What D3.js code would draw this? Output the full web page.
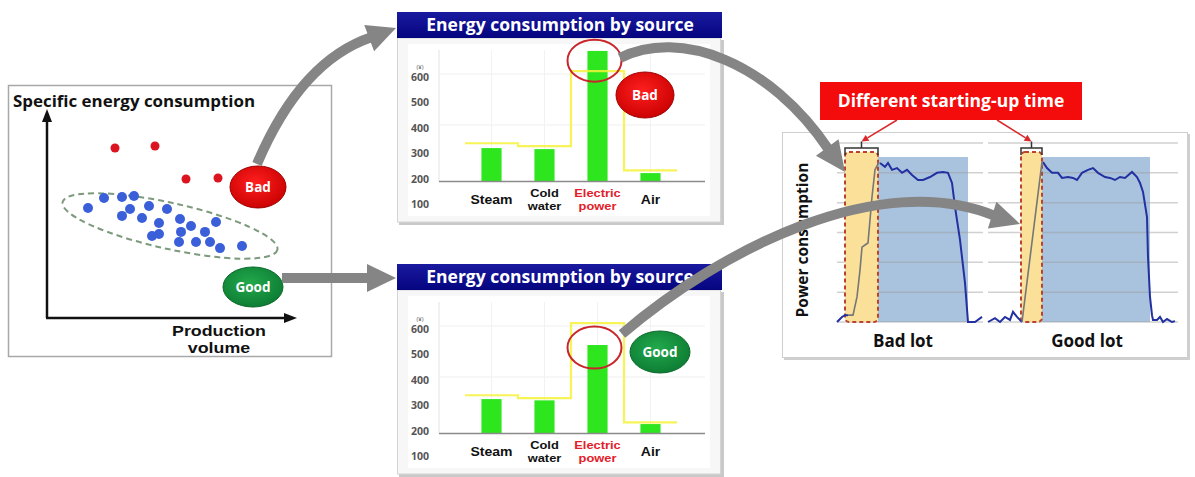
<!DOCTYPE html>
<html>
<head>
<meta charset="utf-8">
<script src="https://cdn.jsdelivr.net/npm/d3@7"></script>
<style>
  body { margin: 0; background: #fff; }
  svg { display: block; font-family: "Open Sans", "DejaVu Sans", sans-serif; }
  .tight { font-family: "Liberation Sans", Arial, sans-serif; }
</style>
</head>
<body>
<svg id="chart" width="1195" height="477"></svg>
<script>
// ---------- data ----------
// Lots plotted as [production volume, specific energy consumption]
const goodLots = [
  [1.64, 5.37], [2.28, 5.85], [3.0, 5.9], [3.48, 5.95], [3.32, 5.32], [4.08, 5.46],
  [4.8, 5.32], [3.0, 4.98], [3.8, 4.88], [4.48, 4.63], [5.32, 4.83], [5.76, 4.49],
  [6.76, 4.68], [4.2, 4.0], [4.48, 4.1], [5.36, 4.2], [6.32, 4.2], [5.28, 3.71],
  [5.96, 3.71], [6.52, 3.71], [6.92, 3.41], [7.8, 3.51]
];
const badLots = [[2.72, 8.29], [4.32, 8.39], [5.56, 6.78], [6.84, 6.83]];

// Energy consumption by source (¥)
const sources = ["Steam", "Cold water", "Electric power", "Air"];
const sourceTicks = [100, 200, 300, 400, 500, 600];
const badLotUse = [329, 325, 710, 231];
const goodLotUse = [333, 328, 545, 235];
const standardUse = [348, 337, 631, 242];

// Power consumption traces: [time (min), power level]
const badIdle = [[0, 0], [2.5, 0.17], [4, 0.23], [5.5, 0.23]];
const badStartup = [[5.5, 0.23], [8, 0.23], [10, 0.84], [11.5, 1.74], [12.5, 2.51], [14, 2.58],
  [15.5, 2.65], [17.5, 4.19], [19, 5.1], [21, 5.36]];
const badRun = [[21.5, 5.33], [24, 5.2], [25.5, 5.33], [27.5, 5.1], [30, 5.16], [32.5, 5.0],
  [35, 5.1], [37.5, 4.93], [40.5, 4.76], [43, 4.76], [46.5, 4.86], [50, 5.0], [53, 5.03],
  [55.5, 5.0], [57.5, 4.66], [59, 3.86], [61.5, 2.75], [64, 1.31], [65.5, 0], [69, 0], [72.5, 0.17]];
const goodIdle = [[0, 0], [3.5, 0.13], [6, 0], [8.5, 0.17], [11, 0.07], [12.5, 0.34],
  [14.5, 0.17], [17, 0]];
const goodStartup = [[17, 0], [27, 5.36]];
const goodRun = [[27.5, 5.36], [29.5, 5.16], [32, 5.0], [35, 5.0], [37, 4.83], [40, 4.86],
  [42.5, 4.83], [44.5, 4.76], [47, 5.0], [50, 5.1], [52.5, 5.16], [55, 5.0], [58.5, 4.86],
  [61, 4.83], [63.5, 4.76], [66, 4.86], [68.5, 4.83], [72, 5.03], [74.5, 4.86], [76, 4.66],
  [77.5, 4.36], [79.5, 3.52], [80, 2.18], [81, 0.84], [82, 0.23], [82.5, 0.07], [84.5, 0.07],
  [86, 0.17], [87.5, 0], [89.5, 0.1], [92, 0], [93.5, 0.03]];
const badStartWindow = [4, 20.5];
const badRunWindow = [20.5, 65.5];
const goodStartWindow = [16.5, 27];
const goodRunWindow = [27, 81];
const powerGrid = [0, 1, 2, 3, 4, 5, 6];

// ---------- setup ----------
const svg = d3.select("#chart");
const defs = svg.append("defs");

function radial(id, inner, outer) {
  const g = defs.append("radialGradient").attr("id", id).attr("cx", "45%").attr("cy", "40%").attr("r", "65%");
  g.append("stop").attr("offset", "0%").attr("stop-color", inner);
  g.append("stop").attr("offset", "100%").attr("stop-color", outer);
}
radial("redBadge", "#ff1f1f", "#c80000");
radial("greenBadge", "#22a94c", "#0c7a32");

const hdr = defs.append("linearGradient").attr("id", "hdr").attr("x1", 0).attr("y1", 0).attr("x2", 0).attr("y2", 1);
hdr.append("stop").attr("offset", "0%").attr("stop-color", "#1a1aa0");
hdr.append("stop").attr("offset", "100%").attr("stop-color", "#050580");

function badge(g, cx, cy, rx, ry, label, fill) {
  g.append("ellipse").attr("cx", cx).attr("cy", cy).attr("rx", rx).attr("ry", ry)
    .attr("fill", fill).attr("stroke", label === "Bad" ? "#a00000" : "#0a6a2a").attr("stroke-width", 1);
  g.append("text").attr("x", cx).attr("y", cy + 5).attr("text-anchor", "middle")
    .attr("fill", "#fff").attr("font-size", 13.5).attr("font-weight", 700).text(label);
}

// ---------- left panel: scatter ----------
const left = svg.append("g");
left.append("rect").attr("x", 8.5).attr("y", 85.5).attr("width", 323).attr("height", 271)
  .attr("fill", "#fff").attr("stroke", "#a8a8a8").attr("stroke-width", 1.5);

const sx = d3.scaleLinear().domain([0, 10]).range([47, 297]);
const sy = d3.scaleLinear().domain([0, 10]).range([318, 113]);

// axes with arrow tips
left.append("line").attr("x1", sx(0)).attr("y1", sy(0)).attr("x2", sx(0)).attr("y2", sy(10) + 8)
  .attr("stroke", "#111").attr("stroke-width", 2.5);
left.append("path").attr("d", `M${sx(0)},${sy(10) - 4} l-5,13 l10,0 z`).attr("fill", "#111");
left.append("line").attr("x1", sx(0) - 1).attr("y1", sy(0)).attr("x2", sx(10) - 8).attr("y2", sy(0))
  .attr("stroke", "#111").attr("stroke-width", 2.5);
left.append("path").attr("d", `M${sx(10)},${sy(0)} l-13,-5 l0,10 z`).attr("fill", "#111");

left.append("text").attr("x", 13).attr("y", 107).attr("font-size", 16.5).attr("font-weight", 700)
  .attr("fill", "#111").attr("textLength", 242).attr("lengthAdjust", "spacingAndGlyphs")
  .text("Specific energy consumption");
left.append("text").attr("class", "tight").attr("transform", "translate(219,336) scale(1.15,1)")
  .attr("text-anchor", "middle").attr("font-size", 15.5).attr("font-weight", 700).attr("fill", "#111")
  .text("Production");
left.append("text").attr("class", "tight").attr("transform", "translate(219,353) scale(1.15,1)")
  .attr("text-anchor", "middle").attr("font-size", 15.5).attr("font-weight", 700).attr("fill", "#111")
  .text("volume");

// cluster outline for the good lots
left.append("ellipse")
  .attr("transform", `translate(${sx(4.92)},${sy(4.49)}) rotate(12.5)`)
  .attr("rx", 110).attr("ry", 23)
  .attr("fill", "none").attr("stroke", "#7d9a7d").attr("stroke-width", 2).attr("stroke-dasharray", "6,4");

left.selectAll("circle.good").data(goodLots).join("circle").attr("class", "good")
  .attr("cx", d => sx(d[0])).attr("cy", d => sy(d[1])).attr("r", 5).attr("fill", "#3a5fd8");
left.selectAll("circle.bad").data(badLots).join("circle").attr("class", "bad")
  .attr("cx", d => sx(d[0])).attr("cy", d => sy(d[1])).attr("r", 4.5).attr("fill", "#dc1420");

badge(left, 258, 187, 28, 21, "Bad", "url(#redBadge)");
badge(left, 253, 287, 30, 20, "Good", "url(#greenBadge)");

// ---------- middle panels: energy by source ----------
const bx = d3.scaleBand().domain(sources).range([465, 677]).paddingInner(0.62).paddingOuter(0.31);
const by = d3.scaleLinear().domain([200, 600]).range([181, 79]);

function sourceChart(dy, values, circleAt, badgeLabel, badgePos) {
  const g = svg.append("g").attr("transform", `translate(0,${dy})`);
  // panel body + shadow
  g.append("rect").attr("x", 399).attr("y", 40).attr("width", 325).attr("height", 185).attr("fill", "#c9c9c9");
  g.append("rect").attr("x", 397.5).attr("y", 38).attr("width", 323).attr("height", 184)
    .attr("fill", "#f7f7f7").attr("stroke", "#d4d4d4");
  g.append("rect").attr("x", 408).attr("y", 44).attr("width", 302).attr("height", 172).attr("fill", "#fff");
  // header
  g.append("rect").attr("x", 397).attr("y", 12).attr("width", 325).attr("height", 26).attr("fill", "url(#hdr)");
  g.append("text").attr("x", 560).attr("y", 31).attr("text-anchor", "middle").attr("fill", "#fff")
    .attr("font-size", 17.5).attr("font-weight", 700).text("Energy consumption by source");

  // faint grid
  g.selectAll("line.hg").data([400, 600]).join("line").attr("class", "hg")
    .attr("x1", 440).attr("x2", 705).attr("y1", d => by(d) - 5).attr("y2", d => by(d) - 5)
    .attr("stroke", "#efefef").attr("stroke-width", 1);
  g.selectAll("line.vg").data(sources).join("line").attr("class", "vg")
    .attr("x1", d => bx(d) + bx.bandwidth() / 2).attr("x2", d => bx(d) + bx.bandwidth() / 2)
    .attr("y1", 50).attr("y2", by(200)).attr("stroke", "#f2f2f2");
  g.append("line").attr("x1", 439).attr("x2", 439).attr("y1", 50).attr("y2", by(200))
    .attr("stroke", "#e2e2e2");

  // y tick labels
  g.selectAll("text.tick").data(sourceTicks).join("text").attr("class", "tick")
    .attr("x", 420).attr("y", d => by(d) + 1.5).attr("text-anchor", "middle")
    .attr("font-size", 10.5).attr("font-weight", 700).attr("fill", "#555").text(d => d);
  g.append("text").attr("x", 420).attr("y", by(600) - 10).attr("text-anchor", "middle")
    .attr("font-size", 6).attr("fill", "#555").text("(¥)");

  // bars
  g.selectAll("rect.bar").data(sources).join("rect").attr("class", "bar")
    .attr("x", d => bx(d)).attr("width", bx.bandwidth())
    .attr("y", (d, i) => by(values[i])).attr("height", (d, i) => by(200) - by(values[i]))
    .attr("fill", "#2ee61e");

  // baseline
  g.append("line").attr("x1", 439).attr("x2", 705).attr("y1", by(200) + 0.5).attr("y2", by(200) + 0.5)
    .attr("stroke", "#8a8a8a").attr("stroke-width", 1.5);

  // standard consumption step line
  const pad = (bx.step() - bx.bandwidth()) / 2;
  const stepPts = [];
  sources.forEach((s, i) => {
    stepPts.push([bx(s) - pad, by(standardUse[i])]);
    stepPts.push([bx(s) - pad + bx.step(), by(standardUse[i])]);
  });
  g.append("path").attr("d", d3.line()(stepPts)).attr("fill", "none")
    .attr("stroke", "#f4f23a").attr("stroke-width", 2.2).attr("stroke-opacity", 0.85);

  // category labels
  sources.forEach((s, i) => {
    const lines = s.split(" ");
    const cx = bx(s) + bx.bandwidth() / 2;
    const color = s === "Electric power" ? "#e3202a" : "#111";
    lines.forEach((t, j) => {
      const yy = lines.length === 1 ? 204 : 197 + j * 13;
      g.append("text").attr("class", "tight")
        .attr("transform", `translate(${cx},${yy}) scale(1.12,1)`).attr("text-anchor", "middle")
        .attr("font-size", lines.length === 1 ? 12.5 : 11.5).attr("font-weight", 700).attr("fill", color)
        .text(t);
    });
  });

  // highlight ring on electric power
  const ex = bx("Electric power") + bx.bandwidth() / 2;
  g.append("ellipse").attr("cx", ex - 3).attr("cy", by(circleAt)).attr("rx", 27).attr("ry", 21)
    .attr("fill", "none").attr("stroke", "#c8262a").attr("stroke-width", 2);

  badge(g, badgePos[0], badgePos[1], badgeLabel === "Bad" ? 29 : 30, badgeLabel === "Bad" ? 23 : 21,
    badgeLabel, badgeLabel === "Bad" ? "url(#redBadge)" : "url(#greenBadge)");
  return g;
}
sourceChart(0, badLotUse, 672, "Bad", [645, 95]);
sourceChart(252, goodLotUse, 535, "Good", [660, 100]);

// ---------- right panel: power consumption ----------
const right = svg.append("g");
right.append("rect").attr("x", 784).attr("y", 134).attr("width", 406).attr("height", 226).attr("fill", "#cfcfcf");
right.append("rect").attr("x", 782.5).attr("y", 132.5).attr("width", 405).attr("height", 225)
  .attr("fill", "#fff").attr("stroke", "#cfcfcf");

const py = d3.scaleLinear().domain([0, 6]).range([322, 143]);
const pxBad = d3.scaleLinear().domain([0, 73]).range([837, 983]);
const pxGood = d3.scaleLinear().domain([0, 95]).range([988, 1178]);

function lot(px, startW, runW, idle, startup, run) {
  const g = right.append("g");
  g.append("rect").attr("x", px(runW[0])).attr("width", px(runW[1]) - px(runW[0]))
    .attr("y", py(5.53)).attr("height", py(0) - py(5.53)).attr("fill", "#a9c3df");
  g.selectAll("line.grid").data(powerGrid).join("line").attr("class", "grid")
    .attr("x1", px.range()[0]).attr("x2", px.range()[1])
    .attr("y1", d => py(d)).attr("y2", d => py(d))
    .attr("stroke", "#9a9a9a").attr("stroke-opacity", 0.45).attr("stroke-width", 1.5);
  g.append("rect").attr("x", px(startW[0])).attr("width", px(startW[1]) - px(startW[0]))
    .attr("y", py(5.7)).attr("height", py(0) - py(5.7)).attr("rx", 4)
    .attr("fill", "#fbe09a").attr("stroke", "#b9432e").attr("stroke-width", 2)
    .attr("stroke-dasharray", "4,3");
  const line = d3.line().x(d => px(d[0])).y(d => py(d[1]));
  g.append("path").attr("d", line(idle)).attr("fill", "none").attr("stroke", "#2230a0").attr("stroke-width", 2);
  g.append("path").attr("d", line(run)).attr("fill", "none").attr("stroke", "#2230a0").attr("stroke-width", 2);
  g.append("path").attr("d", line(startup)).attr("fill", "none").attr("stroke", "#777").attr("stroke-width", 1.6);
  // bracket over start-up window
  const x0 = px(startW[0]), x1 = px(startW[1]), xm = (x0 + x1) / 2;
  g.append("path").attr("d", `M${x0},${py(5.6)} V${py(5.83)} H${x1} V${py(5.6)} M${xm},${py(5.83)} V${py(6.05)}`)
    .attr("fill", "none").attr("stroke", "#333").attr("stroke-width", 1.5);
  return { top: [xm, py(6.05)] };
}
const badMark = lot(pxBad, badStartWindow, badRunWindow, badIdle, badStartup, badRun);
const goodMark = lot(pxGood, goodStartWindow, goodRunWindow, goodIdle, goodStartup, goodRun);

right.append("text").attr("transform", "translate(808,240) rotate(-90)").attr("text-anchor", "middle")
  .attr("font-size", 15.5).attr("font-weight", 700).attr("fill", "#111").text("Power consumption");
right.append("text").attr("x", 903).attr("y", 347).attr("text-anchor", "middle").attr("font-size", 17)
  .attr("font-weight", 700).attr("fill", "#111").text("Bad lot");
right.append("text").attr("x", 1087).attr("y", 347).attr("text-anchor", "middle").attr("font-size", 17)
  .attr("font-weight", 700).attr("fill", "#111").text("Good lot");

// call-out label with pointers to each start-up window
right.append("rect").attr("x", 820).attr("y", 82).attr("width", 262).attr("height", 38).attr("fill", "#f40b0b");
right.append("text").attr("x", 951).attr("y", 107).attr("text-anchor", "middle").attr("font-size", 17.5)
  .attr("font-weight", 700).attr("fill", "#fff").text("Different starting-up time");

function pointer(x0, y0, tip) {
  const a = Math.atan2(tip[1] - y0, tip[0] - x0);
  const L = 7, W = 3.5;
  const bxp = tip[0] - L * Math.cos(a), byp = tip[1] - L * Math.sin(a);
  right.append("line").attr("x1", x0).attr("y1", y0).attr("x2", bxp).attr("y2", byp)
    .attr("stroke", "#d8282a").attr("stroke-width", 1.5);
  right.append("path").attr("d",
    `M${tip[0]},${tip[1]} L${bxp + W * Math.sin(a)},${byp - W * Math.cos(a)} L${bxp - W * Math.sin(a)},${byp + W * Math.cos(a)} Z`)
    .attr("fill", "#d8282a");
}
pointer(897, 120, badMark.top);
pointer(997, 120, goodMark.top);

// ---------- flow arrows ----------
const arrows = svg.append("g");
function flow(p0, c1, c2, p3, tip, halfW) {
  const p = d3.path();
  p.moveTo(p0[0], p0[1]);
  if (c1) p.bezierCurveTo(c1[0], c1[1], c2[0], c2[1], p3[0], p3[1]);
  else p.lineTo(p3[0], p3[1]);
  arrows.append("path").attr("d", p.toString()).attr("fill", "none")
    .attr("stroke", "#858585").attr("stroke-width", 10);
  const a = Math.atan2(tip[1] - p3[1], tip[0] - p3[0]);
  const nx = -Math.sin(a), ny = Math.cos(a);
  const back = [p3[0] - 3 * Math.cos(a), p3[1] - 3 * Math.sin(a)];
  arrows.append("path").attr("d",
    `M${tip[0]},${tip[1]} L${back[0] + nx * halfW},${back[1] + ny * halfW} L${back[0] - nx * halfW},${back[1] - ny * halfW} Z`)
    .attr("fill", "#858585");
}
flow([257, 164], [282, 105], [318, 55], [372, 37], [396, 28], 14);
flow([282, 278], null, null, [370, 278], [396, 278], 14);
flow([620, 58], [680, 28], [770, 62], [829, 150], [845, 172], 14);
flow([622, 334], [720, 250], [880, 168], [995, 216], [1020, 224], 14);
</script>
</body>
</html>
